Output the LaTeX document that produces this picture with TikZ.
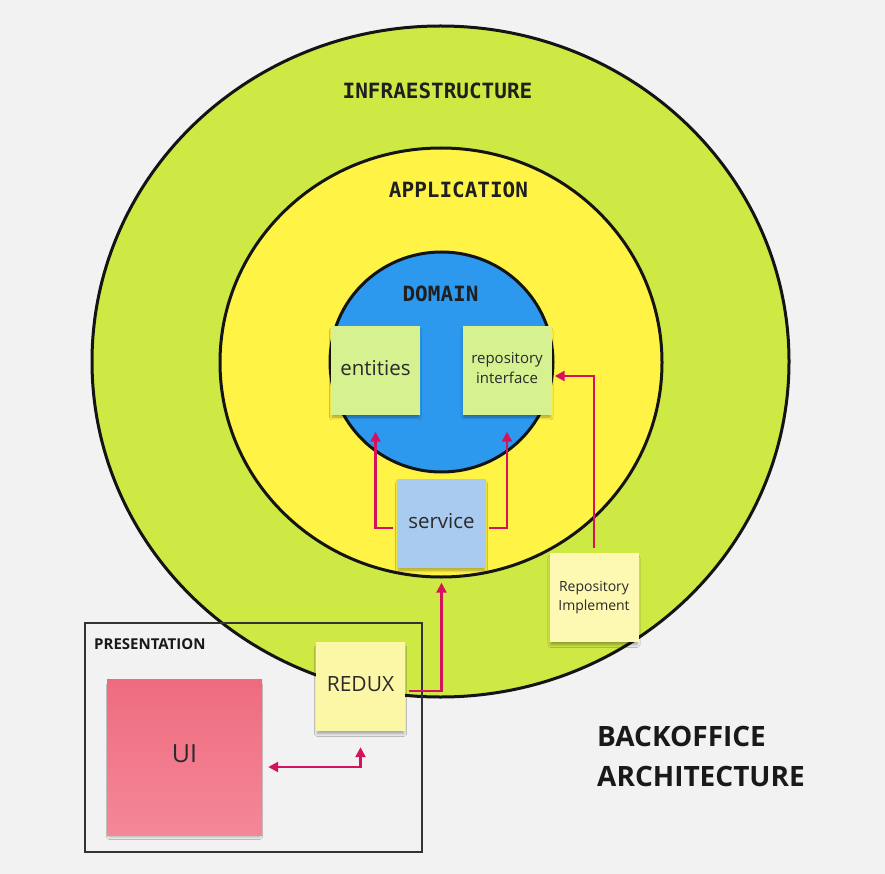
\documentclass[tikz,border=0pt]{standalone}
\usepackage{fontspec}
\setmainfont{Open Sans}
\newfontfamily\monob{DejaVu Sans Mono}
\usetikzlibrary{arrows.meta,shadows.blur}
\definecolor{bgc}{HTML}{F2F2F2}
\definecolor{infrac}{HTML}{CEE844}
\definecolor{appc}{HTML}{FFF346}
\definecolor{domc}{HTML}{2D99EE}
\definecolor{entc}{HTML}{D6F290}
\definecolor{servc}{HTML}{A9CBF0}
\definecolor{implc}{HTML}{FDF9B2}
\definecolor{reduxc}{HTML}{FCF7A6}
\definecolor{uitop}{HTML}{EF6B7F}
\definecolor{uibot}{HTML}{F38898}
\definecolor{arrowc}{HTML}{D6125E}
\definecolor{notetext}{HTML}{2A2A2A}
\definecolor{framec}{HTML}{333333}
\begin{document}
\begin{tikzpicture}[x=1pt,y=-1pt,
  layer/.style={draw=black!92, line width=3pt},
  layerlbl/.style={font=\monob\bfseries\fontsize{21}{25}\selectfont, text=black!88, inner sep=0pt},
  note/.style={minimum width=89pt, minimum height=89pt, inner sep=2pt, align=center, text=notetext,
    blur shadow={shadow blur steps=6, shadow xshift=0pt, shadow yshift=-4pt, shadow scale=0.97, shadow opacity=35, shadow blur radius=3pt}},
  arr/.style={draw=arrowc, line width=2.4pt, -{Triangle[length=10pt,width=10pt]}},
  arrboth/.style={draw=arrowc, line width=2.4pt, {Triangle[length=10pt,width=10pt]}-{Triangle[length=10pt,width=10pt]}},
  boldlbl/.style={font=\bfseries, text=black!90, inner sep=0pt}
]
\fill[bgc] (0,0) rectangle (885,874);
\useasboundingbox (0,0) rectangle (885,874);

% layers
\draw[layer, fill=infrac] (440.5,361.5) ellipse [x radius=348.5pt, y radius=335.5pt];
\draw[layer, fill=appc] (441,362.5) ellipse [x radius=221pt, y radius=214.5pt];
\draw[layer, fill=domc] (441.5,362) ellipse [x radius=111.5pt, y radius=110pt];

\node[layerlbl] (infralbl) at (437.5,90.5) {INFRAESTRUCTURE};
\node[layerlbl] (applbl) at (458.5,189.5) {APPLICATION};
\node[layerlbl] (domlbl) at (440.5,293.5) {DOMAIN};

% presentation frame
\draw[draw=framec, line width=2pt] (85,623) rectangle (422,852);
\node[boldlbl, font=\bfseries\fontsize{15}{18}\selectfont, anchor=base west] (preslbl) at (94,649) {PRESENTATION};

% notes
\node[note, fill=entc, font=\fontsize{20.5}{24}\selectfont] (entities) at (375.5,370) {entities\vphantom{y}};
\node[note, fill=entc, font=\fontsize{15}{20}\selectfont] (repoif) at (507,370) {repository\\interface\vphantom{y}};
\node[note, fill=servc, font=\fontsize{20.5}{24}\selectfont] (service) at (441.5,523) {service\vphantom{y}};
\node[note, fill=implc, font=\fontsize{14}{19.3}\selectfont] (repoimpl) at (594,597.5) {Repository\\Implement\vphantom{y}};
\node[note, fill=reduxc, font=\fontsize{21}{24}\selectfont] (redux) at (360.5,686.5) {REDUX\vphantom{y}};
\node[note, minimum width=155pt, minimum height=156pt, top color=uitop, bottom color=uibot, font=\fontsize{25}{30}\selectfont] (ui) at (184.5,757) {UI\vphantom{y}};

% connectors
\draw[arr] ([shift={(-4pt,-5pt)}]service.west) -| ([yshift=-17pt]entities.south);
\draw[arr] ([shift={(3pt,-5pt)}]service.east) -| ([yshift=-17pt]repoif.south);
\draw[arr] ([yshift=5pt]repoimpl.north) |- ([shift={(3pt,-6pt)}]repoif.east);
\draw[arr] ([shift={(4pt,-4.5pt)}]redux.east) -| ([yshift=-15pt]service.south);
\draw[arrboth] ([shift={(6pt,-10pt)}]ui.east) -| ([yshift=-16pt]redux.south);

% title
\node[boldlbl, font=\bfseries\fontsize{28}{40}\selectfont, anchor=north west, align=left] (title) at (597,726) {BACKOFFICE\\ARCHITECTURE};
\end{tikzpicture}
\end{document}
